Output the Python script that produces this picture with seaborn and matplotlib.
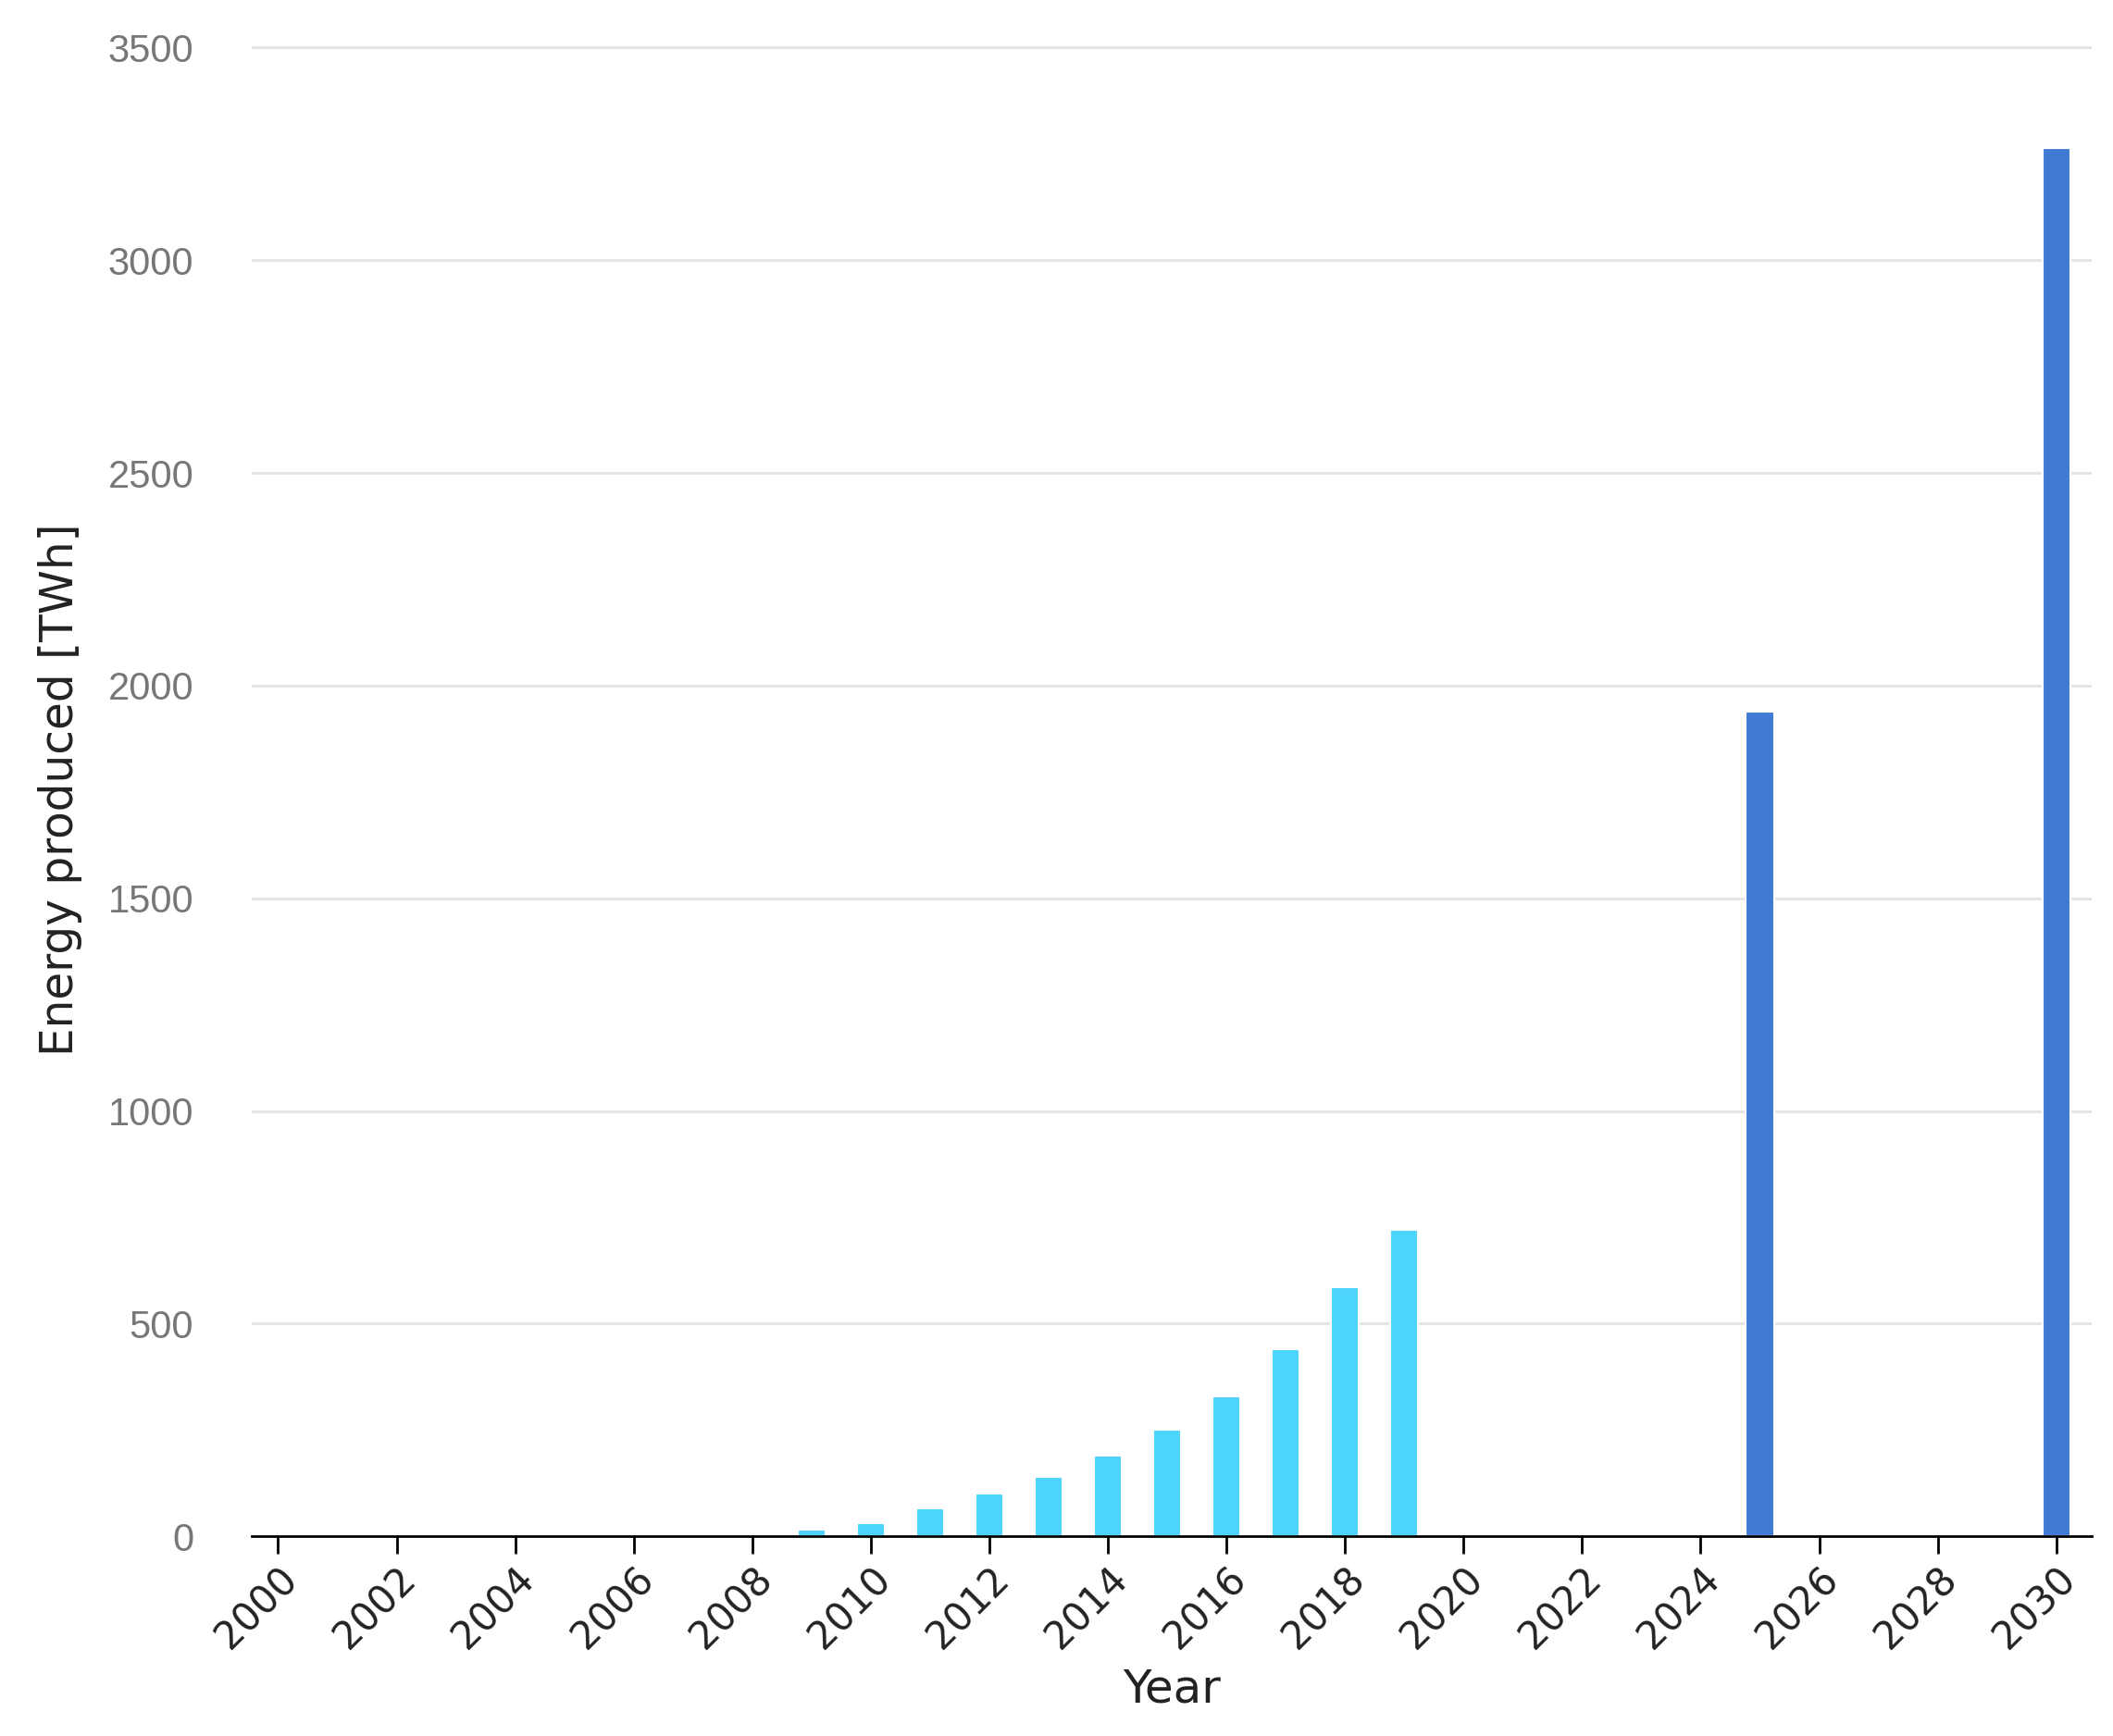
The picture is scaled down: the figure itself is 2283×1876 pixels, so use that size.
import matplotlib
matplotlib.use("Agg")
import matplotlib.pyplot as plt
import seaborn as sns
import pandas as pd

years = [2009, 2010, 2011, 2012, 2013, 2014, 2015, 2016, 2017, 2018, 2019, 2025, 2030]
energy = [15, 30, 65, 100, 140, 190, 250, 330, 440, 585, 720, 1940, 3265]
kind = ["hist"] * 11 + ["proj"] * 2
tick_years = list(range(2000, 2031, 2))
yticks = [0, 500, 1000, 1500, 2000, 2500, 3000, 3500]

df = pd.DataFrame({"Year": years, "Energy": energy, "Kind": kind})

sns.set_style("white")
fig = plt.figure(figsize=(22.83, 18.76), dpi=100)
ax = fig.add_axes([0.119, 0.115, 0.871, 0.86])
sns.barplot(data=df, x="Year", y="Energy", hue="Kind", native_scale=True,
            palette={"hist": "#4dd4fc", "proj": "#3f7bd4"}, width=0.47,
            saturation=1, dodge=False, legend=False, ax=ax,
            edgecolor="white", linewidth=1.5)
ax.set_xlim(1999.55, 2030.6)
ax.set_ylim(0, 3510)
ax.set_yticks(yticks)
ax.set_yticklabels([str(v) for v in yticks], fontsize=30, color="#777777",
                   family="Liberation Sans")
ax.set_xticks(tick_years)
ax.set_xticklabels([str(v) for v in tick_years], rotation=45, ha="right",
                   rotation_mode="anchor", fontsize=30, color="#222222")
ax.grid(axis="y", color="#e3e3e3", linewidth=2)
ax.set_axisbelow(True)
for s in ["top", "right", "left"]:
    ax.spines[s].set_visible(False)
ax.spines["bottom"].set_color("black")
ax.spines["bottom"].set_linewidth(2)
ax.tick_params(axis="x", bottom=True, direction="out", length=14, width=2,
               color="black", pad=4)
ax.tick_params(axis="y", left=False, length=0, pad=45)
ax.set_xlabel("Year", fontsize=36, color="#222222", labelpad=8)
ax.set_ylabel("Energy produced [TWh]", fontsize=35, color="#222222", labelpad=20)
fig.savefig("out.png", dpi=100)
